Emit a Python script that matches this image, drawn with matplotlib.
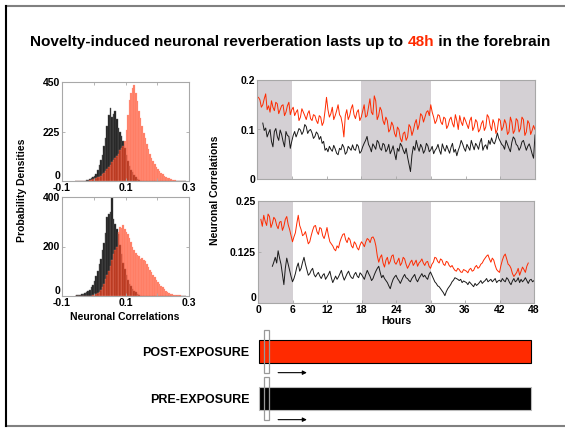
import matplotlib
matplotlib.use("Agg")
import matplotlib.pyplot as plt
import numpy as np
from matplotlib.lines import Line2D
from matplotlib.patches import Rectangle

plt.rcParams['font.family'] = ['Liberation Sans', 'DejaVu Sans']
plt.rcParams['font.weight'] = 'bold'

RED = '#ff2a00'
SPINE = '#a8a8a8'
SHADE = '#d4d0d4'

# histogram bins (left edges, width 0.005)
bin_left = np.arange(70) * 0.005 - 0.06
bin_w = 0.005

hist_top_black = [0, 0, 0, 0, 0, 0,
                  2, 3, 5, 8, 12, 16,
                  22, 30, 50, 75, 95, 120, 160, 195, 250, 300,
                  330, 290, 305, 320, 280, 240, 225, 205, 180, 150,
                  120, 90, 70, 50, 40, 28, 18, 10, 5, 2] + [0] * 28
hist_top_red = [0] * 8 + [2, 3, 5, 7,
                10, 12, 16, 20, 25, 30, 38, 45, 55, 65,
                75, 85, 95, 105, 115, 125, 140, 150, 160, 180,
                230, 300, 370, 400, 425, 435, 400, 365, 320, 285,
                250, 220, 195, 170, 145, 125, 105, 90, 78, 65,
                55, 45, 38, 30, 25, 20, 15, 12, 8, 6,
                4, 3, 2, 0, 0, 0, 0, 0]
hist_bot_black = [2, 3, 4, 6, 8, 10, 12, 15, 20, 25, 35, 45,
                  60, 80, 100, 130, 150, 185, 215, 255, 320, 330,
                  340, 400, 310, 290, 270, 250, 205, 170, 135, 110,
                  85, 65, 50, 40, 30, 22, 15, 10, 5, 2] + [0] * 28
hist_bot_red = [0] * 10 + [2, 4,
                6, 9, 12, 18, 25, 35, 50, 68, 85, 100,
                120, 145, 170, 185, 200, 260, 280, 275, 285, 270,
                260, 250, 235, 220, 200, 185, 175, 165, 160, 150,
                155, 145, 140, 128, 118, 105, 95, 85, 75, 65,
                58, 50, 42, 35, 28, 22, 18, 14, 10, 8,
                6, 5, 4, 3, 3, 2, 1, 0]

# time courses, sampled every 15 min
hours_red_top = np.arange(1, 193) * 0.25
red_top = [0.165, 0.160, 0.145, 0.150, 0.162, 0.172, 0.140, 0.148, 0.135, 0.158, 0.145, 0.138,
           0.155, 0.152, 0.132, 0.140, 0.148, 0.150, 0.128, 0.135, 0.148, 0.155, 0.130, 0.140,
           0.145, 0.128, 0.135, 0.140, 0.118, 0.125, 0.142, 0.135, 0.128, 0.120, 0.132, 0.138,
           0.122, 0.118, 0.130, 0.128, 0.118, 0.112, 0.128, 0.125, 0.108, 0.115, 0.138, 0.165,
           0.140, 0.125, 0.132, 0.145, 0.120, 0.128, 0.138, 0.150, 0.130, 0.125, 0.110, 0.085,
           0.128, 0.140, 0.120, 0.128, 0.142, 0.150, 0.130, 0.122, 0.135, 0.140, 0.118, 0.125,
           0.138, 0.150, 0.125, 0.128, 0.145, 0.162, 0.135, 0.130, 0.168, 0.158, 0.120, 0.128,
           0.145, 0.138, 0.118, 0.110, 0.125, 0.118, 0.095, 0.100, 0.115, 0.108, 0.092, 0.085,
           0.105, 0.100, 0.082, 0.075, 0.092, 0.095, 0.078, 0.085, 0.110, 0.105, 0.088, 0.098,
           0.112, 0.120, 0.100, 0.110, 0.132, 0.128, 0.115, 0.125, 0.135, 0.138, 0.128, 0.150,
           0.135, 0.125, 0.112, 0.118, 0.130, 0.128, 0.115, 0.110, 0.125, 0.122, 0.102, 0.108,
           0.120, 0.125, 0.112, 0.105, 0.130, 0.118, 0.100, 0.128, 0.115, 0.108, 0.125, 0.118,
           0.110, 0.102, 0.118, 0.125, 0.098, 0.105, 0.120, 0.115, 0.095, 0.100, 0.112, 0.118,
           0.098, 0.105, 0.130, 0.125, 0.108, 0.098, 0.120, 0.112, 0.092, 0.100, 0.122, 0.118,
           0.098, 0.105, 0.120, 0.112, 0.090, 0.095, 0.125, 0.115, 0.092, 0.098, 0.122, 0.118,
           0.095, 0.102, 0.125, 0.120, 0.088, 0.095, 0.118, 0.112, 0.090, 0.098, 0.108, 0.100]

hours_black_top = np.arange(4, 193) * 0.25
black_top = [0.113, 0.098, 0.103, 0.085, 0.093, 0.100, 0.076, 0.065, 0.096, 0.102, 0.086,
             0.078, 0.099, 0.090, 0.076, 0.065, 0.096, 0.088, 0.086, 0.062, 0.076,
             0.088, 0.096, 0.085, 0.093, 0.102, 0.099, 0.090, 0.096, 0.110, 0.106, 0.092, 0.098,
             0.100, 0.093, 0.082, 0.086, 0.095, 0.091, 0.080, 0.086, 0.072, 0.076, 0.058, 0.062,
             0.055, 0.066, 0.060, 0.056, 0.068, 0.061, 0.052, 0.049, 0.062, 0.059, 0.070, 0.064,
             0.050, 0.054, 0.066, 0.062, 0.058, 0.069, 0.060, 0.058, 0.070, 0.066, 0.052, 0.056,
             0.065, 0.072, 0.078, 0.086, 0.070, 0.064, 0.055, 0.071, 0.066, 0.060, 0.078, 0.074,
             0.062, 0.058, 0.072, 0.069, 0.055, 0.060, 0.070, 0.051, 0.058, 0.067, 0.052, 0.039,
             0.062, 0.056, 0.072, 0.067, 0.058, 0.051, 0.062, 0.044, 0.030, 0.015, 0.048, 0.066,
             0.058, 0.078, 0.065, 0.056, 0.070, 0.064, 0.052, 0.058, 0.072, 0.067, 0.055, 0.059,
             0.066, 0.051, 0.058, 0.062, 0.070, 0.058, 0.050, 0.071, 0.062, 0.056, 0.068, 0.060,
             0.052, 0.064, 0.072, 0.054, 0.060, 0.047, 0.058, 0.066, 0.078, 0.071, 0.062, 0.056,
             0.070, 0.064, 0.058, 0.078, 0.068, 0.059, 0.072, 0.067, 0.060, 0.074, 0.082, 0.058,
             0.066, 0.069, 0.060, 0.078, 0.070, 0.083, 0.074, 0.071, 0.080, 0.093, 0.082, 0.076,
             0.070, 0.067, 0.060, 0.078, 0.070, 0.062, 0.055, 0.074, 0.085, 0.081, 0.070, 0.067,
             0.058, 0.064, 0.075, 0.078, 0.068, 0.058, 0.066, 0.071, 0.062, 0.051, 0.042, 0.089]

hours_red_bot = np.arange(2, 189) * 0.25
red_bot = [0.205, 0.188, 0.215, 0.200, 0.190, 0.218, 0.212, 0.185, 0.195, 0.210, 0.205, 0.190,
           0.182, 0.198, 0.200, 0.178, 0.188, 0.205, 0.212, 0.192, 0.180, 0.165, 0.150,
           0.162, 0.172, 0.195, 0.215, 0.190, 0.180, 0.165, 0.168, 0.175, 0.160, 0.145, 0.150,
           0.165, 0.178, 0.188, 0.190, 0.175, 0.168, 0.185, 0.182, 0.165, 0.158, 0.170, 0.185,
           0.165, 0.150, 0.145, 0.140, 0.132, 0.128, 0.140, 0.135, 0.150, 0.160, 0.168, 0.170,
           0.155, 0.148, 0.160, 0.155, 0.140, 0.135, 0.150, 0.145, 0.135, 0.130, 0.142, 0.150,
           0.145, 0.138, 0.150, 0.158, 0.155, 0.148, 0.160, 0.162, 0.155, 0.140, 0.115, 0.100,
           0.112, 0.118, 0.098, 0.088, 0.105, 0.112, 0.095, 0.102, 0.115, 0.118, 0.100, 0.095,
           0.102, 0.110, 0.092, 0.098, 0.112, 0.108, 0.095, 0.085, 0.092, 0.100, 0.105, 0.092,
           0.098, 0.105, 0.090, 0.098, 0.102, 0.108, 0.098, 0.092, 0.100, 0.102, 0.090, 0.085,
           0.095, 0.100, 0.112, 0.110, 0.102, 0.098, 0.108, 0.105, 0.095, 0.092, 0.102, 0.100,
           0.092, 0.088, 0.092, 0.085, 0.080, 0.078, 0.085, 0.082, 0.076, 0.075, 0.082, 0.080,
           0.078, 0.074, 0.082, 0.085, 0.078, 0.080, 0.088, 0.092, 0.085, 0.088, 0.095, 0.098,
           0.105, 0.110, 0.115, 0.118, 0.108, 0.100, 0.110, 0.105, 0.092, 0.082, 0.078, 0.075,
           0.092, 0.105, 0.115, 0.120, 0.108, 0.095, 0.092, 0.085, 0.072, 0.065,
           0.070, 0.075, 0.085, 0.068, 0.078, 0.088, 0.082, 0.075, 0.090, 0.098]

hours_black_bot = np.arange(10, 193) * 0.25
black_bot = [0.090, 0.100, 0.112, 0.098, 0.128, 0.110, 0.095, 0.070, 0.045, 0.085, 0.110, 0.095,
             0.080, 0.065, 0.052,
             0.060, 0.072, 0.088, 0.098, 0.078, 0.085, 0.100, 0.112, 0.095, 0.082, 0.068, 0.072,
             0.080, 0.085, 0.070, 0.064, 0.070, 0.075, 0.066, 0.060, 0.068, 0.072, 0.058, 0.064,
             0.070, 0.078, 0.062, 0.050, 0.058, 0.066, 0.058, 0.064, 0.072, 0.080, 0.066, 0.056,
             0.064, 0.072, 0.078, 0.068, 0.062, 0.060, 0.070, 0.075, 0.066, 0.062, 0.074, 0.070,
             0.064, 0.058, 0.070, 0.080, 0.072, 0.065, 0.055, 0.060, 0.070, 0.078, 0.085, 0.090,
             0.075, 0.062, 0.068, 0.060, 0.055, 0.050, 0.042, 0.035, 0.048, 0.058, 0.064, 0.068,
             0.060, 0.055, 0.048, 0.056, 0.064, 0.070, 0.062, 0.060, 0.055, 0.052, 0.060, 0.065,
             0.070, 0.058, 0.052, 0.060, 0.066, 0.072, 0.064, 0.068, 0.062, 0.058, 0.070, 0.076,
             0.068, 0.060, 0.052, 0.048, 0.042, 0.040, 0.035, 0.030, 0.025, 0.018, 0.028, 0.035,
             0.040, 0.045, 0.052, 0.056, 0.062, 0.060, 0.058, 0.055, 0.058, 0.050, 0.054, 0.052,
             0.050, 0.045, 0.052, 0.048, 0.044, 0.040, 0.048, 0.043, 0.046, 0.050, 0.055, 0.048,
             0.052, 0.055, 0.060, 0.052, 0.055, 0.058, 0.052, 0.056, 0.060, 0.050, 0.054, 0.056,
             0.052, 0.060, 0.055, 0.052, 0.062, 0.058, 0.050, 0.045, 0.054, 0.060, 0.052, 0.055,
             0.062, 0.050, 0.058, 0.052, 0.056, 0.062, 0.055, 0.048, 0.056, 0.058, 0.052, 0.055]

dark_periods = [(0, 6), (18, 30), (42, 48)]

# recording bars
exposure_labels = ['POST-EXPOSURE', 'PRE-EXPOSURE']
rec_start = [0.2, 0.2]
rec_end = [47.5, 47.5]
rec_colors = [RED, 'black']
win_start, win_len = 1.0, 0.9
arrow_from, arrow_to = 3.5, 8.5

W, H = 565, 429
fig = plt.figure(figsize=(W / 100, H / 100), dpi=100)


def px_axes(x0, y0, x1, y1):
    return fig.add_axes([x0 / W, 1 - y1 / H, (x1 - x0) / W, (y1 - y0) / H])


def style(ax, zero_va='bottom'):
    for s in ax.spines.values():
        s.set_color(SPINE)
        s.set_linewidth(0.8)
    ax.tick_params(direction='in', length=2.5, width=0.6, color=SPINE,
                   labelsize=7.5, pad=1.5, top=True, right=True)
    for lab in ax.get_xticklabels() + ax.get_yticklabels():
        lab.set_fontweight('bold')
    # the "0" label sits on the baseline in most panels of the original
    ax.get_yticklabels()[0].set_verticalalignment(zero_va)


# histograms
hist_sets = [(hist_top_black, hist_top_red, [0, 225, 450], (62, 82, 189, 181)),
             (hist_bot_black, hist_bot_red, [0, 200, 400], (62, 197, 189, 296))]
for hb, hr, yt, box in hist_sets:
    ax = px_axes(*box)
    ax.bar(bin_left, hb, width=bin_w, align='edge', color='#1c1c1c',
           edgecolor='#5a5a5a', linewidth=0.3)
    ax.bar(bin_left, hr, width=bin_w, align='edge', color=RED, alpha=0.6,
           edgecolor='#ff9a8a', linewidth=0.3)
    ax.set_xlim(-0.1, 0.3)
    ax.set_ylim(0, yt[-1])
    ax.set_xticks([-0.1, 0, 0.1, 0.2, 0.3])
    ax.set_xticklabels(['-0.1', '', '0.1', '', '0.3'])
    ax.set_yticks(yt)
    ax.set_yticklabels([str(v) for v in yt])
    style(ax)

fig.text(22 / W, 1 - 190 / H, 'Probability Densities', rotation=90,
         ha='center', va='center', fontsize=7.5, fontweight='bold')
fig.text(125 / W, 1 - 317 / H, 'Neuronal Correlations',
         ha='center', va='center', fontsize=7.5, fontweight='bold')

# time courses
ts_sets = [(red_top, black_top, hours_red_top, hours_black_top, 0.2, [0, 0.1, 0.2], ['0', '0.1', '0.2'],
            (257, 80, 535, 179), False),
           (red_bot, black_bot, hours_red_bot, hours_black_bot, 0.25, [0, 0.125, 0.25], ['0', '0.125', '0.25'],
            (258, 201, 534, 303), True)]
for rv, bv, hr, hb, ymax, yt, ytl, box, show_x in ts_sets:
    ax = px_axes(*box)
    for a, b in dark_periods:
        ax.axvspan(a, b, color=SHADE, lw=0)
    ax.plot(hb, bv, color='#1a1a1a', lw=0.7)
    ax.plot(hr, rv, color=RED, lw=0.7)
    ax.set_xlim(0, 48)
    ax.set_ylim(0, ymax)
    ax.set_xticks(range(0, 49, 6))
    if not show_x:
        ax.set_xticklabels([])
    ax.set_yticks(yt)
    ax.set_yticklabels(ytl)
    style(ax, 'bottom' if show_x else 'center_baseline')
    ax.tick_params(top=False, right=False)
    if show_x:
        ax.set_xlabel('Hours', fontsize=7.5, fontweight='bold', labelpad=1)

fig.text(215 / W, 1 - 190 / H, 'Neuronal Correlations', rotation=90,
         ha='center', va='center', fontsize=7.5, fontweight='bold')

# recording bars
axb = px_axes(258, 328, 534, 422)
ypos = np.arange(len(exposure_labels))
axb.barh(ypos, np.array(rec_end) - np.array(rec_start), left=rec_start, height=0.51,
         color=rec_colors, edgecolor=['black', '#bbbbbb'], linewidth=0.8)
for y in ypos:
    axb.add_patch(Rectangle((win_start, y - 0.45), win_len, 0.9, fill=False,
                            edgecolor='#999999', lw=0.9, clip_on=False))
    axb.annotate('', xy=(arrow_to, y + 0.45), xytext=(arrow_from, y + 0.45),
                 arrowprops=dict(arrowstyle='-|>', color='black', lw=0.8,
                                 mutation_scale=6, shrinkA=0, shrinkB=0),
                 annotation_clip=False)
axb.set_xlim(0, 48)
axb.set_ylim(1.5, -0.5)
axb.set_yticks(ypos)
axb.set_yticklabels(exposure_labels, fontsize=9, fontweight='bold')
axb.tick_params(axis='y', length=0, pad=6)
axb.set_xticks([])
for s in axb.spines.values():
    s.set_visible(False)

# outer frame
fig.add_artist(Line2D([5.5 / W, 1], [1 - 6 / H] * 2, transform=fig.transFigure, color='#808080', lw=1.5))
fig.add_artist(Line2D([5.5 / W, 1], [1 - 426 / H] * 2, transform=fig.transFigure, color='#808080', lw=1.5))
fig.add_artist(Line2D([5.5 / W] * 2, [1 - 6 / H, 1 - 426 / H], transform=fig.transFigure, color='black', lw=1.5))

# title with red "48h"
parts = [('Novelty-induced neuronal reverberation lasts up to ', 'black'),
         ('48h', RED), (' in the forebrain', 'black')]
renderer = fig.canvas.get_renderer()
texts = [fig.text(0, 1 - 42 / H, s, color=c, fontsize=11.1, fontweight='bold', va='center')
         for s, c in parts]
widths = [t.get_window_extent(renderer).width for t in texts]
x = 290.5 - sum(widths) / 2
for t, w in zip(texts, widths):
    t.set_x(x / W)
    x += w

fig.savefig('out.png', dpi=100)
